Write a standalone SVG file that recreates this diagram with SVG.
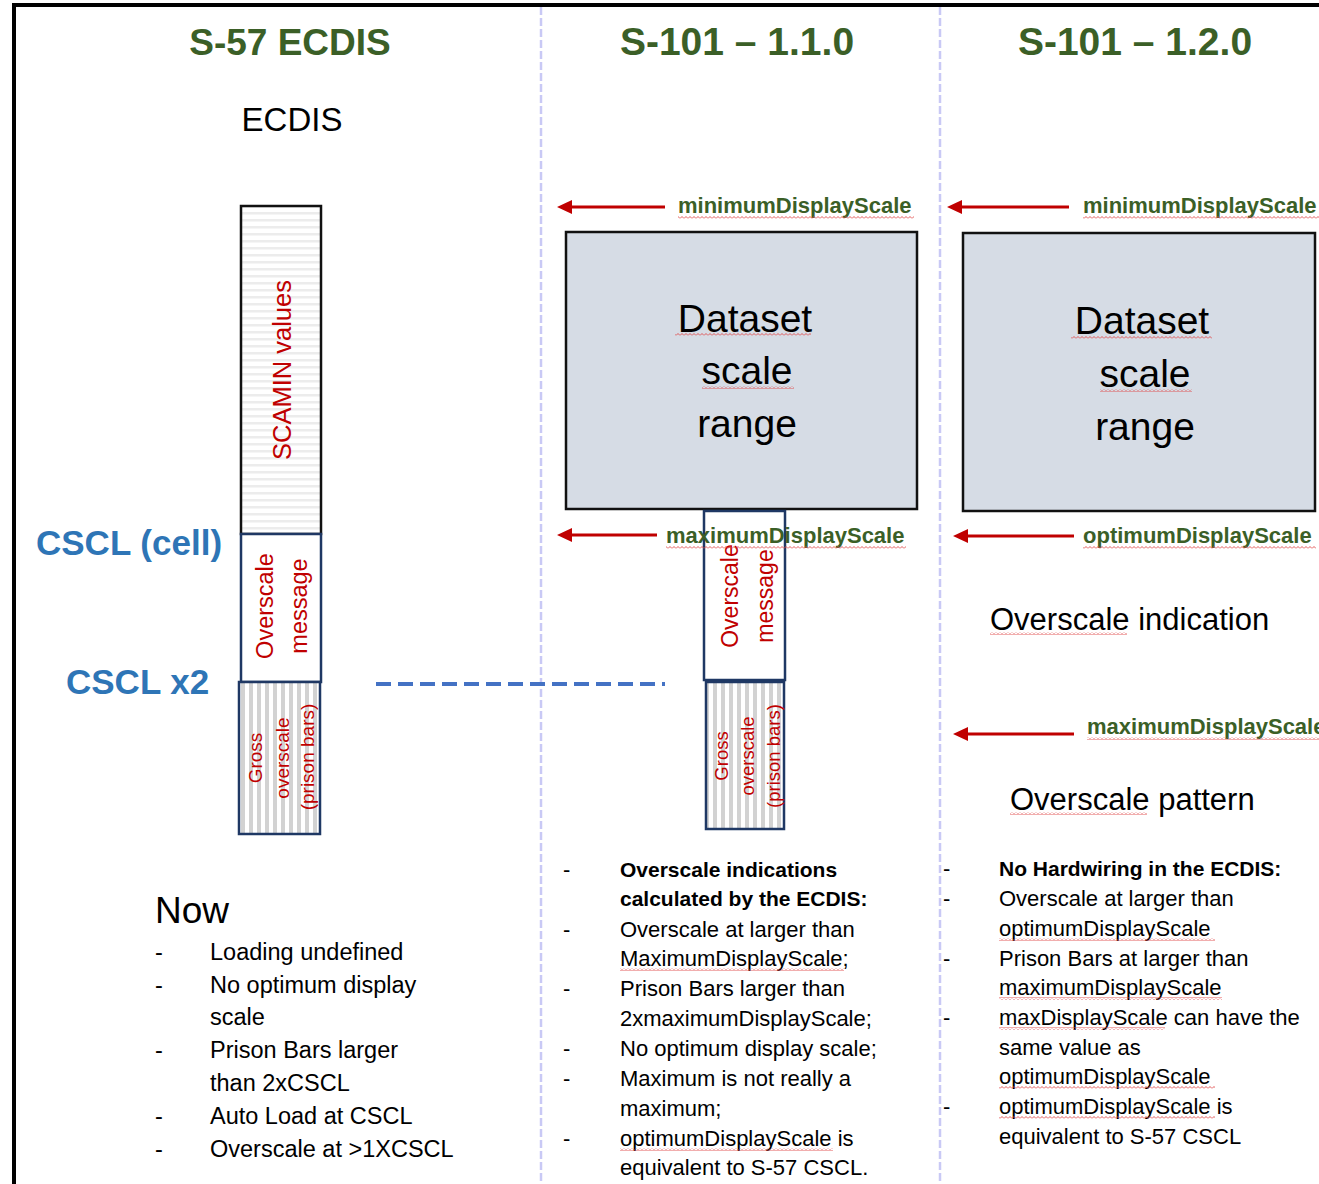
<svg xmlns="http://www.w3.org/2000/svg" width="1319" height="1184" viewBox="0 0 1319 1184">
<style>
text{font-family:'Liberation Sans',Arial,sans-serif;}
.hd{font-weight:bold;fill:#3b5f27;text-anchor:middle;}
.lbl{font-weight:bold;fill:#3b5f27;font-size:22px;}
.blue{font-weight:bold;fill:#2e75b6;font-size:35px;}
.red{fill:#c00000;text-anchor:middle;}
.ds{font-size:39px;fill:#000;text-anchor:middle;}
.big{font-size:31px;fill:#000;}
.l1{font-size:23.5px;fill:#000;}
.l2{font-size:22px;fill:#000;}
.b2{font-size:21px;font-weight:bold;fill:#000;}
.arrow{stroke:#c00000;stroke-width:3;fill:none;marker-end:url(#ah);}
.wv{fill:url(#wavy);}
.box{stroke:#1f3864;stroke-width:2.5;}
.dsbox{fill:#d6dce5;stroke:#111;stroke-width:2.5;}
.div{stroke:#c9c9f5;stroke-width:2.5;stroke-dasharray:8 3;fill:none;}
</style>
<defs>
<marker id="ah" viewBox="0 0 15 14" refX="10" refY="7" markerWidth="15" markerHeight="14" markerUnits="userSpaceOnUse" orient="auto">
<path d="M0,0 L15,7 L0,14 z" fill="#c00000"/>
</marker>
<pattern id="wavy" width="4" height="3" patternUnits="userSpaceOnUse">
<path d="M0,2.5 L2,0.5 L4,2.5" stroke="#e04848" stroke-width="0.9" fill="none"/>
</pattern>
<pattern id="hstripe" width="8" height="7" patternUnits="userSpaceOnUse">
<rect width="8" height="7" fill="#ffffff"/>
<rect y="2" width="8" height="2.5" fill="#ececec"/>
</pattern>
<pattern id="vstripe" width="8" height="8" patternUnits="userSpaceOnUse">
<rect width="8" height="8" fill="#ffffff"/>
<rect x="1" width="4" height="8" fill="#d2d2d2"/>
</pattern>
</defs>
<rect width="1319" height="1184" fill="#ffffff"/>
<rect x="14" y="5" width="1400" height="1300" fill="none" stroke="#000" stroke-width="4"/>
<line class="div" x1="541" y1="7" x2="541" y2="1184"/>
<line class="div" x1="940" y1="7" x2="940" y2="1184"/>

<g id="headers">
<text class="hd" x="290" y="55" font-size="37">S-57 ECDIS</text>
<text class="hd" x="737" y="55" font-size="39">S-101 – 1.1.0</text>
<text class="hd" x="1135" y="55" font-size="39">S-101 – 1.2.0</text>
<text x="292" y="131" font-size="33" text-anchor="middle" fill="#000">ECDIS</text>
</g>

<g id="cscl-labels">
<text class="blue" x="36" y="555">CSCL (cell)</text>
<text class="blue" x="66" y="694" font-size="33.5">CSCL x2</text>
</g>

<g id="s57-scamin">
<rect x="241" y="206" width="80" height="328" fill="url(#hstripe)" stroke="#111" stroke-width="2.5"/>
<text class="red" font-size="25.5" transform="translate(291,370) rotate(-90)">SCAMIN values</text>
</g>
<g id="s57-overscale">
<rect class="box" x="241" y="534" width="80" height="148" fill="#fff"/>
<text class="red" font-size="23.5" transform="translate(273,606) rotate(-90)">Overscale</text>
<text class="red" font-size="23.5" transform="translate(307,606) rotate(-90)">message</text>
</g>
<g id="s57-gross">
<rect class="box" x="239" y="682" width="81" height="152" fill="url(#vstripe)"/>
<text class="red" font-size="19" transform="translate(262,758) rotate(-90)">Gross</text>
<text class="red" font-size="19" transform="translate(289,758) rotate(-90)">overscale</text>
<text class="red" font-size="19" transform="translate(314,757) rotate(-90)">(prison bars)</text>
</g>

<g id="s101-110-dataset">
<rect class="dsbox" x="566" y="232" width="351" height="277"/>
<text class="ds" x="745" y="332">Dataset</text>
<text class="ds" x="747" y="384">scale</text>
<text class="ds" x="747" y="437">range</text>
<rect class="wv" x="675" y="333" width="136" height="3"/>
<rect class="wv" x="702" y="386" width="92" height="3"/>
</g>
<g id="s101-110-overscale">
<rect class="box" x="704" y="511" width="81" height="169" fill="#fff"/>
<text class="red" font-size="23" transform="translate(738,596) rotate(-90)">Overscale</text>
<text class="red" font-size="23" transform="translate(773,596) rotate(-90)">message</text>
</g>
<g id="s101-110-gross">
<rect class="box" x="706" y="682" width="78" height="147" fill="url(#vstripe)"/>
<text class="red" font-size="18.5" transform="translate(728,756) rotate(-90)">Gross</text>
<text class="red" font-size="18.5" transform="translate(754,756) rotate(-90)">overscale</text>
<text class="red" font-size="18.5" transform="translate(780,756) rotate(-90)">(prison bars)</text>
</g>

<g id="s101-120-dataset">
<rect class="dsbox" x="963" y="233" width="352" height="278"/>
<text class="ds" x="1142" y="334">Dataset</text>
<text class="ds" x="1145" y="387">scale</text>
<text class="ds" x="1145" y="440">range</text>
<rect class="wv" x="1071" y="336" width="141" height="3"/>
<rect class="wv" x="1100" y="389" width="92" height="3"/>
</g>
<g id="s101-120-texts">
<text class="big" x="990" y="630">Overscale indication</text>
<rect class="wv" x="990" y="632" width="137" height="3"/>
<text class="big" x="1010" y="810">Overscale pattern</text>
<rect class="wv" x="1010" y="812" width="137" height="3"/>
</g>

<g id="connectors">
<path class="arrow" d="M665,207 L562,207"/>
<path class="arrow" d="M657,535 L562,535"/>
<path class="arrow" d="M1069,207 L952,207"/>
<path class="arrow" d="M1074,536 L958,536"/>
<path class="arrow" d="M1074,734 L958,734"/>
<line x1="376" y1="684" x2="665" y2="684" stroke="#4472c4" stroke-width="4" stroke-dasharray="15 7"/>
</g>

<g id="scale-labels">
<text class="lbl" x="678" y="213">minimumDisplayScale</text>
<rect class="wv" x="678" y="216" width="236" height="3"/>
<text class="lbl" x="666" y="543">maximumDisplayScale</text>
<rect class="wv" x="666" y="546" width="240" height="3"/>
<text class="lbl" x="1083" y="213">minimumDisplayScale</text>
<rect class="wv" x="1083" y="216" width="236" height="3"/>
<text class="lbl" x="1083" y="543">optimumDisplayScale</text>
<rect class="wv" x="1083" y="546" width="233" height="3"/>
<text class="lbl" x="1087" y="734">maximumDisplayScale</text>
<rect class="wv" x="1087" y="737" width="232" height="3"/>
</g>

<g id="notes-s57">
<text x="155" y="923" font-size="37" fill="#000">Now</text>
<text class="l1" x="155" y="960">-</text><text class="l1" x="210" y="960">Loading undefined</text>
<text class="l1" x="155" y="993">-</text><text class="l1" x="210" y="993">No optimum display</text>
<text class="l1" x="210" y="1025">scale</text>
<text class="l1" x="155" y="1058">-</text><text class="l1" x="210" y="1058">Prison Bars larger</text>
<text class="l1" x="210" y="1091">than 2xCSCL</text>
<text class="l1" x="155" y="1124">-</text><text class="l1" x="210" y="1124">Auto Load at CSCL</text>
<text class="l1" x="155" y="1157">-</text><text class="l1" x="210" y="1157">Overscale at &gt;1XCSCL</text>
</g>

<g id="notes-s101-110">
<text class="l2" x="563" y="877">-</text><text class="b2" x="620" y="877">Overscale indications</text>
<text class="b2" x="620" y="906">calculated by the ECDIS:</text>
<text class="l2" x="563" y="937">-</text><text class="l2" x="620" y="937">Overscale at larger than</text>
<text class="l2" x="620" y="966">MaximumDisplayScale;</text>
<rect class="wv" x="620" y="968" width="224" height="3"/>
<text class="l2" x="563" y="996">-</text><text class="l2" x="620" y="996">Prison Bars larger than</text>
<text class="l2" x="620" y="1026">2xmaximumDisplayScale;</text>
<text class="l2" x="563" y="1056">-</text><text class="l2" x="620" y="1056">No optimum display scale;</text>
<text class="l2" x="563" y="1086">-</text><text class="l2" x="620" y="1086">Maximum is not really a</text>
<text class="l2" x="620" y="1116">maximum;</text>
<text class="l2" x="563" y="1146">-</text><text class="l2" x="620" y="1146">optimumDisplayScale is</text>
<rect class="wv" x="620" y="1148" width="213" height="3"/>
<text class="l2" x="620" y="1175">equivalent to S-57 CSCL.</text>
</g>

<g id="notes-s101-120">
<text class="l2" x="943" y="876">-</text><text class="b2" x="999" y="876">No Hardwiring in the ECDIS:</text>
<text class="l2" x="943" y="906">-</text><text class="l2" x="999" y="906">Overscale at larger than</text>
<text class="l2" x="999" y="936">optimumDisplayScale</text>
<rect class="wv" x="999" y="938" width="216" height="3"/>
<text class="l2" x="943" y="966">-</text><text class="l2" x="999" y="966">Prison Bars at larger than</text>
<text class="l2" x="999" y="995">maximumDisplayScale</text>
<rect class="wv" x="999" y="997" width="223" height="3"/>
<text class="l2" x="943" y="1025">-</text><text class="l2" x="999" y="1025">maxDisplayScale can have the</text>
<rect class="wv" x="999" y="1027" width="166" height="3"/>
<text class="l2" x="999" y="1055">same value as</text>
<text class="l2" x="999" y="1084">optimumDisplayScale</text>
<rect class="wv" x="999" y="1086" width="216" height="3"/>
<text class="l2" x="943" y="1114">-</text><text class="l2" x="999" y="1114">optimumDisplayScale is</text>
<rect class="wv" x="999" y="1116" width="216" height="3"/>
<text class="l2" x="999" y="1144">equivalent to S-57 CSCL</text>
</g>
</svg>
